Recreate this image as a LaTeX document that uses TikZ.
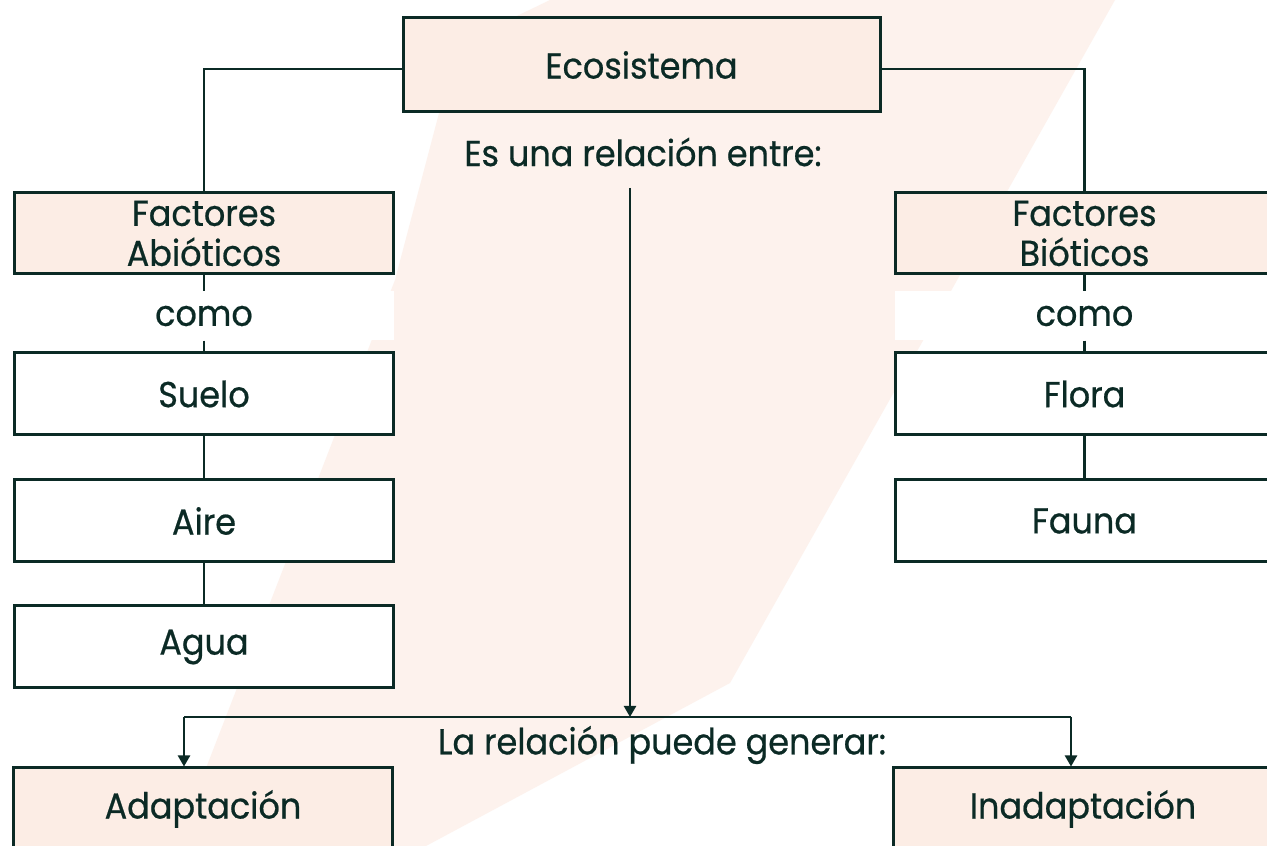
\documentclass[tikz,border=0pt]{standalone}
\usepackage{fontspec}
\setmainfont{Poppins}[FakeStretch=0.93,FakeBold=0.6]
\usepackage{tikz}
\usetikzlibrary{arrows.meta}
\definecolor{ink}{HTML}{0B2A25}
\definecolor{peach}{HTML}{FCEDE5}
\definecolor{blush}{HTML}{FDF2ED}

\begin{document}
\begin{tikzpicture}[x=1pt,y=1pt,
    box/.style={draw=ink,line width=3pt,minimum width=379pt,minimum height=82pt,
      inner sep=0pt,text=ink,align=center,font=\fontsize{36}{40}\selectfont},
    fbox/.style={box,fill=peach},
    wbox/.style={box,fill=white},
    lbl/.style={text=ink,inner sep=0pt,font=\fontsize{36}{40}\selectfont},
    link/.style={draw=ink,line width=2.3pt},
    arr/.style={link,-{Triangle[length=11pt,width=12pt]}}]
  \clip (0,0) rectangle (1267,846);
  \fill[white] (0,0) rectangle (1267,846);
  % faint shape behind
  \fill[blush] (457,801) -- (550,846) -- (1115,846) -- (730,163) -- (426,0)
    -- (175,0) -- (208,83) -- (395,566) -- cycle;

  \node[fbox,minimum width=477pt,minimum height=94pt] (eco) at (641.5,781) {Ecosistema};
  \node[lbl] (entre) at (643,694) {Es una relación entre:};

  \node[fbox,minimum height=81pt] (abio) at (204,612.5) {Factores\\Abióticos};
  \node[fbox,minimum height=81pt] (bio) at (1084.5,612.5) {Factores\\Bióticos};
  \node[lbl,fill=white,minimum width=379pt,minimum height=49pt] (comoL) at (204,530) {como};
  \node[lbl,fill=white,minimum width=379pt,minimum height=49pt] (comoR) at (1084.5,530) {como};

  \node[wbox] (suelo) at (204,452) {Suelo};
  \node[wbox] (aire) at (204,325) {Aire};
  \node[wbox] (agua) at (204,199) {Agua};
  \node[wbox] (flora) at (1084.5,452) {Flora};
  \node[wbox] (fauna) at (1084.5,325) {Fauna};

  \node[lbl] (generar) at (662,101) {La relación puede generar:};
  \node[fbox] (adapt) at (203,37) {Adaptación};
  \node[fbox] (inadapt) at (1083,37) {Inadaptación};

  \coordinate (drop) at (630,658);
  \coordinate (split) at (630,129);
  \coordinate (forkL) at (184,129);
  \coordinate (forkR) at (1071,129);

  \draw[link] ([yshift=-4pt]eco.west) -| (abio.north);
  \draw[link] ([yshift=-4pt]eco.east) -| (bio.north);
  \draw[link] (abio.south) -- (comoL.north);
  \draw[link] (comoL.south) -- (suelo.north);
  \draw[link] (suelo.south) -- (aire.north);
  \draw[link] (aire.south) -- (agua.north);
  \draw[link] (bio.south) -- (comoR.north);
  \draw[link] (comoR.south) -- (flora.north);
  \draw[link] (flora.south) -- (fauna.north);

  \draw[arr] (drop) -- (split);
  \draw[link] (forkL) -- (forkR);
  \draw[arr] (forkL) -- (forkL |- adapt.north);
  \draw[arr] (forkR) -- (forkR |- inadapt.north);
\end{tikzpicture}
\end{document}
